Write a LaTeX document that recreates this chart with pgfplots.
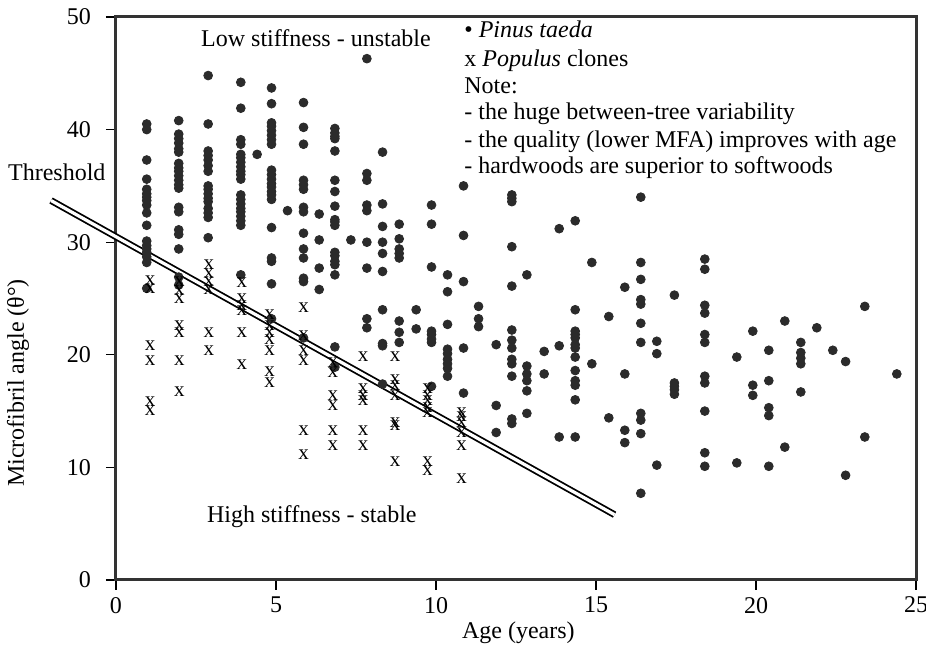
\documentclass[border=0pt]{standalone}
\usepackage{fontspec}
\setmainfont{Liberation Serif}
\usepackage{pgfplots}
\usepackage{pgfplotstable}
\pgfplotsset{compat=1.18}

\definecolor{dotc}{HTML}{2B2B2B}
\definecolor{framec}{HTML}{333333}
\tikzset{legline/.style={anchor=west, inner sep=0pt, text height=8.5pt, text depth=2.5pt}}

% Pinus taeda (dots)
\pgfplotstableread{
x y
0.96 40.5
0.96 40.0
0.96 37.3
0.96 35.6
0.96 34.7
0.96 34.3
0.96 34.0
0.96 33.7
0.96 33.3
0.96 32.6
0.96 31.5
0.96 30.1
0.96 29.7
0.96 29.4
0.96 29.1
0.96 28.7
0.96 28.2
0.96 25.9
1.96 40.8
1.96 39.6
1.96 39.2
1.96 38.8
1.96 38.3
1.96 38.0
1.96 37.0
1.96 36.6
1.96 36.3
1.96 35.9
1.96 35.5
1.96 35.1
1.96 34.8
1.96 33.1
1.96 32.7
1.96 31.1
1.96 30.7
1.96 29.4
1.96 26.9
1.96 26.2
2.88 44.8
2.88 40.5
2.88 38.1
2.88 37.7
2.88 37.3
2.88 36.8
2.88 36.3
2.88 35.0
2.88 34.7
2.88 34.3
2.88 33.9
2.88 33.6
2.88 33.0
2.88 32.6
2.88 32.2
2.88 30.4
3.90 44.2
3.90 41.9
3.90 39.1
3.90 38.7
3.90 37.8
3.90 37.5
3.90 37.1
3.90 36.7
3.90 36.3
3.90 36.0
3.90 35.6
3.90 34.2
3.90 33.8
3.90 33.4
3.90 33.0
3.90 32.7
3.90 32.3
3.90 31.9
3.90 31.5
3.90 27.1
4.41 37.8
4.86 43.7
4.86 42.3
4.86 40.6
4.86 40.3
4.86 39.9
4.86 39.5
4.86 39.1
4.86 38.7
4.86 36.4
4.86 36.0
4.86 35.6
4.86 35.2
4.86 34.9
4.86 34.5
4.86 34.2
4.86 33.8
4.86 31.3
4.86 28.6
4.86 28.3
4.86 26.3
4.86 23.2
5.36 32.8
5.86 42.4
5.86 40.2
5.86 38.7
5.86 35.5
5.86 35.1
5.86 34.7
5.86 33.1
5.86 32.7
5.86 30.8
5.86 29.4
5.86 28.6
5.86 26.8
5.86 26.5
5.86 21.5
6.35 32.5
6.35 30.2
6.35 27.7
6.35 25.8
6.84 40.1
6.84 39.7
6.84 39.4
6.84 39.2
6.84 38.1
6.84 35.5
6.84 34.5
6.84 33.2
6.84 32.0
6.84 31.8
6.84 31.5
6.84 29.1
6.84 28.8
6.84 28.3
6.84 28.0
6.84 27.1
6.84 20.7
6.84 18.9
7.34 30.2
7.84 46.3
7.84 36.1
7.84 35.5
7.84 33.3
7.84 32.8
7.84 30.0
7.84 27.7
7.84 23.2
7.84 22.4
8.33 38.0
8.33 33.4
8.33 31.4
8.33 30.0
8.33 29.0
8.33 27.4
8.33 24.0
8.33 21.0
8.33 20.8
8.33 17.4
8.85 31.6
8.85 30.3
8.85 29.4
8.85 29.0
8.85 28.6
8.85 23.0
8.85 22.0
8.85 21.1
9.38 24.0
9.38 22.3
9.86 33.3
9.86 31.6
9.86 27.8
9.86 22.1
9.86 21.8
9.86 21.4
9.86 21.1
9.86 17.2
10.36 27.1
10.36 25.6
10.36 22.7
10.36 20.5
10.36 20.1
10.36 19.6
10.36 19.2
10.36 18.8
10.36 18.1
10.86 35.0
10.86 30.6
10.86 26.5
10.86 20.6
10.86 16.6
11.33 24.3
11.33 23.2
11.33 22.5
11.88 20.9
11.88 15.5
11.88 13.1
12.37 34.2
12.37 33.9
12.37 33.6
12.37 29.6
12.37 26.1
12.37 22.2
12.37 21.3
12.37 20.6
12.37 19.6
12.37 19.2
12.37 18.1
12.37 14.3
12.37 13.9
12.84 27.1
12.84 19.0
12.84 18.3
12.84 17.7
12.84 16.8
12.84 14.8
13.38 20.3
13.38 18.3
13.85 31.2
13.85 20.8
13.85 12.7
14.35 31.9
14.35 24.0
14.35 22.1
14.35 21.8
14.35 21.5
14.35 20.9
14.35 20.6
14.35 19.8
14.35 18.6
14.35 17.7
14.35 17.3
14.35 16.0
14.35 12.7
14.87 28.2
14.87 19.2
15.40 23.4
15.40 14.4
15.90 26.0
15.90 18.3
15.90 13.3
15.90 12.2
16.40 34.0
16.40 28.2
16.40 26.7
16.40 24.9
16.40 24.5
16.40 22.8
16.40 21.1
16.40 14.8
16.40 14.2
16.40 13.0
16.40 7.7
16.90 21.2
16.90 20.1
16.90 10.2
17.45 25.3
17.45 17.5
17.45 17.2
17.45 16.9
17.45 16.5
18.40 28.5
18.40 27.6
18.40 24.4
18.40 23.7
18.40 21.8
18.40 21.1
18.40 18.1
18.40 17.5
18.40 15.0
18.40 11.3
18.40 10.1
19.40 19.8
19.40 10.4
19.90 22.1
19.90 17.3
19.90 16.4
20.40 20.4
20.40 17.7
20.40 15.3
20.40 14.6
20.40 10.1
20.90 23.0
20.90 11.8
21.40 21.1
21.40 20.2
21.40 19.7
21.40 19.2
21.40 16.7
21.90 22.4
22.40 20.4
22.80 19.4
22.80 9.3
23.40 24.3
23.40 12.7
24.40 18.3
}\pinus

% Populus clones (x)
\pgfplotstableread{
x y
1.07 26.6
1.07 25.9
1.07 20.8
1.07 19.5
1.07 15.8
1.07 15.0
1.98 26.5
1.98 25.7
1.98 25.0
1.98 22.6
1.98 22.0
1.98 19.5
1.98 16.7
2.90 28.0
2.90 27.2
2.90 26.5
2.90 25.8
2.90 22.0
2.90 20.4
3.93 26.4
3.93 25.0
3.93 24.4
3.93 23.9
3.93 22.0
3.93 19.1
4.80 23.6
4.80 22.6
4.80 22.0
4.80 21.3
4.80 20.4
4.80 18.5
4.80 17.5
5.86 24.2
5.86 21.7
5.86 20.4
5.86 19.5
5.86 13.3
5.86 11.1
6.78 19.3
6.78 18.4
6.78 16.4
6.78 15.5
6.78 13.3
6.78 11.9
7.72 19.8
7.72 17.0
7.72 16.4
7.72 15.9
7.72 13.3
7.72 11.9
8.72 19.8
8.72 17.8
8.72 17.3
8.72 16.4
8.72 14.0
8.72 13.7
8.72 10.5
9.74 17.0
9.74 16.4
9.74 15.9
9.74 15.3
9.74 14.9
9.74 10.5
9.74 9.7
10.80 14.9
10.80 14.5
10.80 14.0
10.80 13.1
10.80 11.9
10.80 9.0
}\populus

\begin{document}
\begin{tikzpicture}[font=\fontsize{12}{14.4}\selectfont]
\path[use as bounding box] (-58pt,-33pt) rectangle (405pt,290pt);
\begin{axis}[
    scale only axis,
    width=400pt, height=281.5pt,
    xmin=0, xmax=25, ymin=0, ymax=50,
    xtick={0,5,...,25}, ytick={0,10,...,50},
    tick align=outside,
    xtick pos=bottom, ytick pos=left,
    major tick length=5pt,
    tick style={black, line width=0.6pt},
    axis line style={line width=1.5pt, framec},
    /pgf/number format/assume math mode=true,
    yticklabel style={xshift=-4pt},
    xlabel={Age (years)},
    ylabel={Microfibril angle (θ°)},
    xlabel style={at={(axis description cs:0.503,0)}, anchor=center, yshift=-26.5pt},
    ylabel style={at={(axis description cs:-0.1225,0.35)}, anchor=center},
    clip=false,
]
\addplot[black, line width=0.9pt, double=white, double distance=1.6pt, mark=none]
    coordinates {(-2.03,33.7) (15.58,5.8)};
\addplot[only marks, mark=*, mark size=2.2pt, dotc] table {\pinus};
\addplot[only marks, mark=text, text mark={\fontsize{10.5}{10.5}\selectfont x}, black] table {\populus};

\node at (axis cs:6.25,48.1) {Low stiffness - unstable};
\node at (axis cs:6.12,5.6) {High stiffness - stable};
\node at (axis cs:-1.85,36.2) {Threshold};
\node[legline] at (axis cs:10.875,48.67) {• \textit{Pinus taeda}};
\node[legline] at (axis cs:10.875,46.18) {x \textit{Populus} clones};
\node[legline] at (axis cs:10.875,43.78) {Note:};
\node[legline] at (axis cs:10.875,41.39) {- the huge between-tree variability};
\node[legline] at (axis cs:10.875,38.90) {- the quality (lower MFA) improves with age};
\node[legline] at (axis cs:10.875,36.59) {- hardwoods are superior to softwoods};
\end{axis}
\end{tikzpicture}
\end{document}
